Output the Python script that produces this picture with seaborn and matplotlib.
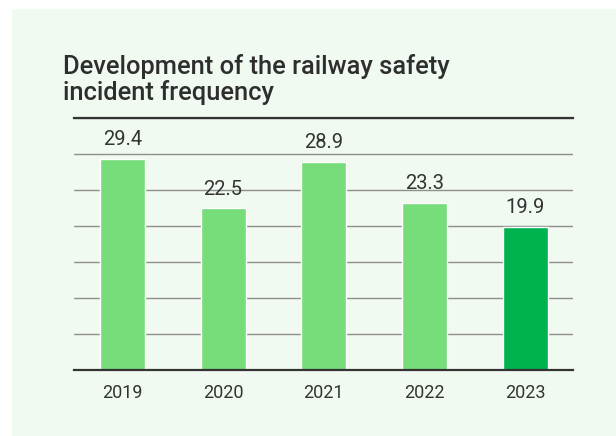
import matplotlib
matplotlib.use("Agg")
import matplotlib.pyplot as plt
import seaborn as sns
from matplotlib.patches import Rectangle

# data
years = ["2019", "2020", "2021", "2022", "2023"]
frequency = [29.4, 22.5, 28.9, 23.3, 19.9]
bar_colors = ["#77dd7b", "#77dd7b", "#77dd7b", "#77dd7b", "#00b34f"]

sns.set_theme(style="white")
plt.rcParams["font.family"] = ["Roboto", "DejaVu Sans"]

text_color = "#333333"
panel_color = "#f0faf0"

fig = plt.figure(figsize=(6.16, 4.36), dpi=100, facecolor="white")
# light green panel behind the chart
fig.patches.append(Rectangle((12 / 616, 0), 1, 1 - 9 / 436, transform=fig.transFigure,
                             facecolor=panel_color, edgecolor="none", zorder=-5))

ax = fig.add_axes([74 / 616, 65.7 / 436, 498.7 / 616, 252 / 436])
ax.set_facecolor(panel_color)

sns.barplot(x=years, y=frequency, hue=years, palette=bar_colors, legend=False,
            width=0.447, saturation=1, ax=ax, zorder=2)

for container in ax.containers:
    ax.bar_label(container, fmt="%.1f", padding=7, fontsize=14.5, color=text_color)

ax.set_ylim(0, 35)
ax.set_xlim(-0.48, 4.47)
ax.set_yticks(range(0, 36, 5))
ax.set_yticklabels([])
ax.yaxis.grid(True, color="#8e8e8e", linewidth=1)
ax.set_axisbelow(True)
ax.tick_params(axis="x", length=0, pad=10, labelsize=13, labelcolor=text_color)
ax.tick_params(axis="y", length=0)
ax.set_xlabel("")
ax.set_ylabel("")

for side in ["left", "right"]:
    ax.spines[side].set_visible(False)
for side in ["top", "bottom"]:
    ax.spines[side].set_color("#333333")
    ax.spines[side].set_linewidth(1.6)
    ax.spines[side].set_zorder(3)

# two-line title above the chart
fig.text(62.7 / 616, 1 - 74 / 436, "Development of the railway safety",
         fontsize=18.4, fontweight="medium", color="#2e2e2e", va="baseline", ha="left")
fig.text(62.7 / 616, 1 - 100 / 436, "incident frequency",
         fontsize=18.4, fontweight="medium", color="#2e2e2e", va="baseline", ha="left")

fig.savefig("out.png", dpi=100, facecolor="white")
